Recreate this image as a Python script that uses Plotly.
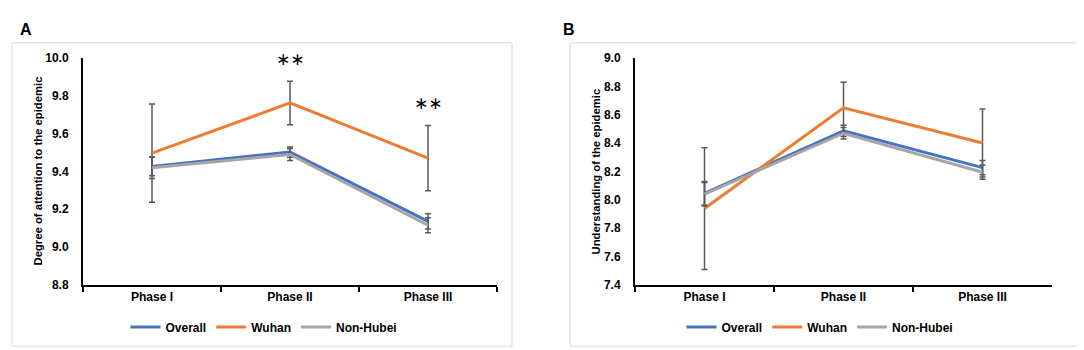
import plotly.graph_objects as go

W, H = 1084, 350

phases = ["Phase I", "Phase II", "Phase III"]

# Panel A: Degree of attention to the epidemic
a_overall = [9.427, 9.503, 9.136]
a_overall_err = [0.05, 0.027, 0.04]
a_wuhan = [9.497, 9.763, 9.471]
a_wuhan_err = [0.26, 0.115, 0.173]
a_nonhubei = [9.420, 9.490, 9.115]
a_nonhubei_err = [0.057, 0.032, 0.04]
a_sig = ["", "**", "**"]

# Panel B: Understanding of the epidemic
b_overall = [8.046, 8.487, 8.227]
b_overall_err = [0.083, 0.04, 0.05]
b_wuhan = [7.938, 8.650, 8.401]
b_wuhan_err = [0.43, 0.18, 0.24]
b_nonhubei = [8.040, 8.470, 8.195]
b_nonhubei_err = [0.083, 0.04, 0.05]

a_yticks = [8.8, 9.0, 9.2, 9.4, 9.6, 9.8, 10.0]
b_yticks = [7.4, 7.6, 7.8, 8.0, 8.2, 8.4, 8.6, 8.8, 9.0]

series_names = ["Overall", "Wuhan", "Non-Hubei"]
colors = {"Overall": "#4472C4", "Wuhan": "#ED7D31", "Non-Hubei": "#A5A5A5"}
ERR_COLOR = "#595959"
FONT = "Liberation Sans"

fig = go.Figure()


def add_panel(vals, errs, xa, ya, legend):
    for name, v, e in zip(series_names, vals, errs):
        fig.add_trace(go.Scatter(
            x=phases, y=v, mode="lines", name=name,
            line=dict(color=colors[name], width=3),
            error_y=dict(type="data", array=e, visible=True,
                         color=ERR_COLOR, thickness=1.5, width=3),
            xaxis=xa, yaxis=ya, legend=legend, showlegend=True,
        ))


add_panel([a_overall, a_wuhan, a_nonhubei],
          [a_overall_err, a_wuhan_err, a_nonhubei_err], "x", "y", "legend")
add_panel([b_overall, b_wuhan, b_nonhubei],
          [b_overall_err, b_wuhan_err, b_nonhubei_err], "x2", "y2", "legend2")

ydom = [1 - 281 / H, 1 - 45 / H]
tickfont = dict(family=FONT, size=12, color="#000000", weight="bold")

xcommon = dict(type="category", range=[-0.5, 2.5], showline=True,
               linecolor="#000000", linewidth=2, ticks="outside",
               tickson="boundaries", ticklen=5, tickwidth=2,
               tickcolor="#000000", showgrid=False, zeroline=False,
               tickfont=tickfont, fixedrange=True)
ycommon = dict(showline=True, linecolor="#000000", linewidth=2, ticks="",
               showgrid=False, zeroline=False, tickformat=".1f",
               tickfont=tickfont, ticklabelstandoff=10, fixedrange=True,
               domain=ydom)

legfont = dict(family=FONT, size=12, weight="bold")

fig.update_layout(
    width=W, height=H,
    margin=dict(l=0, r=0, t=0, b=0),
    paper_bgcolor="#FFFFFF", plot_bgcolor="#FFFFFF",
    font=dict(family=FONT, color="#000000"),
    xaxis=dict(domain=[75 / W, 489 / W], anchor="y", **xcommon),
    yaxis=dict(range=[8.8, 10.0], tickvals=a_yticks, anchor="x", **ycommon),
    xaxis2=dict(domain=[627 / W, 1044 / W], anchor="y2", **xcommon),
    yaxis2=dict(range=[7.4, 9.0], tickvals=b_yticks, anchor="x2", **ycommon),
    legend=dict(orientation="h", x=256 / W, y=1 - 325 / H,
                xanchor="center", yanchor="middle", font=legfont,
                itemwidth=30, tracegroupgap=0, bgcolor="rgba(0,0,0,0)"),
    legend2=dict(orientation="h", x=812 / W, y=1 - 325 / H,
                 xanchor="center", yanchor="middle", font=legfont,
                 itemwidth=30, tracegroupgap=0, bgcolor="rgba(0,0,0,0)"),
    showlegend=True,
)

# chart-area frames
fig.add_shape(type="rect", xref="paper", yref="paper",
              x0=4 / W, x1=504 / W, y0=1 - 345 / H, y1=1 - 29 / H,
              line=dict(color="#D9D9D9", width=1), layer="below")
fig.add_shape(type="rect", xref="paper", yref="paper",
              x0=562 / W, x1=1.01, y0=1 - 345 / H, y1=1 - 29 / H,
              line=dict(color="#D9D9D9", width=1), layer="below")

# panel letters
fig.add_annotation(text="A", xref="paper", yref="paper", x=10 / W, y=1 - 15 / H,
                   xanchor="left", yanchor="middle", showarrow=False,
                   font=dict(family=FONT, size=16, weight="bold"))
fig.add_annotation(text="B", xref="paper", yref="paper", x=553 / W, y=1 - 15 / H,
                   xanchor="left", yanchor="middle", showarrow=False,
                   font=dict(family=FONT, size=16, weight="bold"))

# y-axis titles
fig.add_annotation(text="Degree of attention to the epidemic", xref="paper", yref="paper",
                   x=30 / W, y=1 - 163 / H, textangle=-90, showarrow=False,
                   xanchor="center", yanchor="middle",
                   font=dict(family=FONT, size=11.3, weight="bold"))
fig.add_annotation(text="Understanding of the epidemic", xref="paper", yref="paper",
                   x=588 / W, y=1 - 163 / H, textangle=-90, showarrow=False,
                   xanchor="center", yanchor="middle",
                   font=dict(family=FONT, size=11.3, weight="bold"))

# significance markers
for ph, v, e, s in zip(phases, a_wuhan, a_wuhan_err, a_sig):
    if s:
        fig.add_annotation(text="∗∗", x=ph, y=v + e + 0.12, xref="x", yref="y",
                           showarrow=False, xanchor="center", yanchor="middle",
                           font=dict(family="DejaVu Sans", size=17, color="#000000"))

fig.write_html("out.html")
